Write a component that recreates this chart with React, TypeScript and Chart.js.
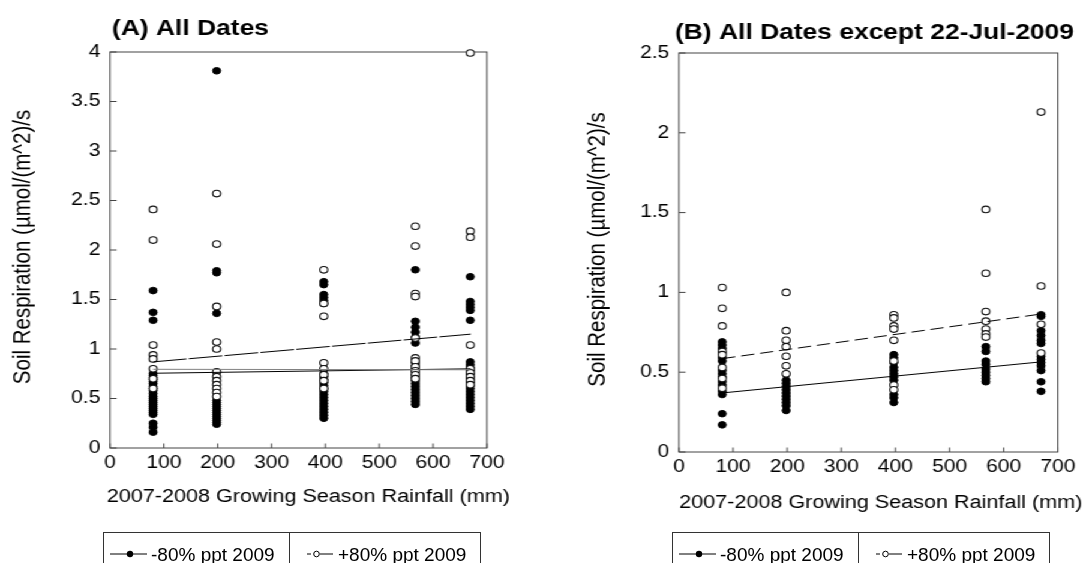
import React, { useEffect, useRef } from 'react';
import { Chart, registerables } from 'chart.js';

Chart.register(...registerables);

// ---------- data ----------
const X_COLUMNS = [80, 198, 397, 567, 669];
const FIT_X = [80, 670];

// Panel A: all dates
const A_MINUS80 = [
  [1.59, 1.37, 1.29, 0.75, 0.73, 0.71, 0.69, 0.67, 0.65, 0.62, 0.6, 0.58, 0.55, 0.52, 0.5, 0.48, 0.46, 0.44, 0.42, 0.4, 0.38, 0.36, 0.34, 0.25, 0.21, 0.16],
  [3.81, 1.79, 1.77, 1.36, 0.48, 0.46, 0.44, 0.42, 0.4, 0.38, 0.36, 0.34, 0.32, 0.3, 0.28, 0.26, 0.24],
  [1.68, 1.65, 1.55, 1.52, 1.49, 1.46, 0.75, 0.72, 0.69, 0.66, 0.63, 0.6, 0.57, 0.54, 0.51, 0.48, 0.45, 0.42, 0.39, 0.36, 0.33, 0.3],
  [1.8, 1.28, 1.22, 1.17, 1.12, 1.06, 0.86, 0.83, 0.8, 0.77, 0.74, 0.71, 0.68, 0.65, 0.62, 0.59, 0.56, 0.53, 0.5, 0.47, 0.44],
  [1.73, 1.48, 1.45, 1.42, 1.39, 1.29, 0.87, 0.84, 0.81, 0.78, 0.75, 0.72, 0.69, 0.66, 0.63, 0.6, 0.57, 0.54, 0.51, 0.48, 0.45, 0.42, 0.39],
];
const A_PLUS80 = [
  [2.41, 2.1, 1.04, 0.94, 0.9, 0.8, 0.7, 0.6],
  [2.57, 2.06, 1.43, 1.07, 1.0, 0.77, 0.72, 0.68, 0.64, 0.6, 0.56, 0.52],
  [1.8, 1.46, 1.33, 0.86, 0.8, 0.74, 0.68, 0.6],
  [2.24, 2.04, 1.56, 1.53, 1.11, 0.91, 0.88, 0.82, 0.78, 0.74, 0.7],
  [3.99, 2.19, 2.13, 1.04, 0.8, 0.76, 0.72, 0.68, 0.64],
];
const A_FIT_MINUS80 = [0.755, 0.8];
const A_FIT_MINUS80_ALT = [0.795, 0.79];
const A_FIT_PLUS80 = [0.87, 1.15];

// Panel B: all dates except 22-Jul-2009
const B_MINUS80 = [
  [0.69, 0.67, 0.65, 0.59, 0.57, 0.51, 0.49, 0.47, 0.44, 0.42, 0.38, 0.36, 0.24, 0.17],
  [0.45, 0.43, 0.41, 0.39, 0.37, 0.35, 0.33, 0.31, 0.29, 0.26],
  [0.61, 0.59, 0.56, 0.53, 0.51, 0.49, 0.47, 0.45, 0.36, 0.34, 0.31],
  [0.66, 0.63, 0.57, 0.55, 0.52, 0.5, 0.48, 0.46, 0.44],
  [0.86, 0.85, 0.76, 0.73, 0.7, 0.68, 0.6, 0.58, 0.56, 0.54, 0.51, 0.44, 0.38],
];
const B_PLUS80 = [
  [1.03, 0.9, 0.79, 0.63, 0.61, 0.53, 0.46, 0.4],
  [1.0, 0.76, 0.7, 0.66, 0.6, 0.54, 0.49],
  [0.86, 0.84, 0.79, 0.77, 0.7, 0.57, 0.42, 0.39],
  [1.52, 1.12, 0.88, 0.82, 0.77, 0.74, 0.72],
  [2.13, 1.04, 0.8, 0.62],
];
const B_FIT_MINUS80 = [0.37, 0.565];
const B_FIT_PLUS80 = [0.585, 0.865];

const LEGEND_LABELS = ['-80% ppt 2009', '+80% ppt 2009'];
const X_TITLE = '2007-2008 Growing Season Rainfall (mm)';
const Y_TITLE = 'Soil Respiration (\u00b5mol/(m^2)/s';

// ---------- styling / layout ----------
const FONT = '"Liberation Sans", Arial, Helvetica, sans-serif';
const SX = 1.2; // horizontal stretch of the plot graphics
const PAGE_H = 563;
const FRAME = '#444';

const toPoints = (cols: number[][]) => {
  const pts: { x: number; y: number }[] = [];
  cols.forEach((vals, i) => vals.forEach((v) => pts.push({ x: X_COLUMNS[i], y: v })));
  return pts;
};
const toLine = (ys: number[]) => ys.map((y, i) => ({ x: FIT_X[i], y }));

type PanelCfg = {
  canvasLeft: number;
  canvasWidth: number;
  area: { left: number; right: number; top: number; bottom: number };
  yMax: number;
  title: string;
  titleX: number;
  titleY: number;
  yTitleX: number;
  xTitleX: number;
  xTitleY: number;
  minus: number[][];
  plus: number[][];
  fits: { ys: number[]; color: string; dash: number[] }[];
};

const PANELS: PanelCfg[] = [
  {
    canvasLeft: 0,
    canvasWidth: 460,
    area: { left: 91.7, right: 405.8, top: 52, bottom: 448 },
    yMax: 4,
    title: '(A) All Dates',
    titleX: 93.3,
    titleY: 34.5,
    yTitleX: 19.5,
    xTitleX: 257,
    xTitleY: 497,
    minus: A_MINUS80,
    plus: A_PLUS80,
    fits: [
      { ys: A_FIT_MINUS80_ALT, color: '#808080', dash: [] },
      { ys: A_FIT_MINUS80, color: '#000', dash: [] },
      { ys: A_FIT_PLUS80, color: '#000', dash: [28, 2] },
    ],
  },
  {
    canvasLeft: 470,
    canvasWidth: 1085 / SX - 470,
    area: { left: 565.8, right: 881.7, top: 53, bottom: 452 },
    yMax: 2.5,
    title: '(B) All Dates except 22-Jul-2009',
    titleX: 562.5,
    titleY: 38.5,
    yTitleX: 498.3,
    xTitleX: 734,
    xTitleY: 503,
    minus: B_MINUS80,
    plus: B_PLUS80,
    fits: [
      { ys: B_FIT_MINUS80, color: '#000', dash: [] },
      { ys: B_FIT_PLUS80, color: '#000', dash: [11, 5] },
    ],
  },
];

function Panel({ cfg }: { cfg: PanelCfg }) {
  const ref = useRef<HTMLCanvasElement>(null);

  useEffect(() => {
    if (!ref.current) return;
    const off = cfg.canvasLeft;
    const a = cfg.area;

    const decor = {
      id: 'panelDecor',
      beforeDatasetsDraw(chart: any) {
        const { ctx, chartArea: ca, scales } = chart;
        ctx.save();
        ctx.strokeStyle = FRAME;
        ctx.lineWidth = 1;
        ctx.strokeRect(ca.left, ca.top, ca.right - ca.left, ca.bottom - ca.top);
        ctx.beginPath();
        scales.y.ticks.forEach((t: any) => {
          const y = scales.y.getPixelForValue(t.value);
          ctx.moveTo(ca.left, y);
          ctx.lineTo(ca.left + 5.5, y);
        });
        scales.x.ticks.forEach((t: any) => {
          const x = scales.x.getPixelForValue(t.value);
          ctx.moveTo(x, ca.bottom);
          ctx.lineTo(x, ca.bottom - 4.5);
        });
        ctx.stroke();
        ctx.restore();
      },
      afterDraw(chart: any) {
        const { ctx, chartArea: ca } = chart;
        ctx.save();
        ctx.fillStyle = '#000';
        ctx.font = `bold 22px ${FONT}`;
        ctx.textAlign = 'left';
        ctx.textBaseline = 'alphabetic';
        ctx.fillText(cfg.title, cfg.titleX - off, cfg.titleY);

        ctx.font = `18px ${FONT}`;
        ctx.textAlign = 'center';
        ctx.textBaseline = 'middle';
        ctx.fillText(X_TITLE, cfg.xTitleX - off, cfg.xTitleY);

        ctx.font = `20.5px ${FONT}`;
        ctx.translate(cfg.yTitleX - off, (ca.top + ca.bottom) / 2 - 3);
        ctx.rotate(-Math.PI / 2);
        ctx.fillText(Y_TITLE, 0, 0);
        ctx.restore();
      },
    };

    const tickFont = { family: FONT, size: 17.5 };

    const chart = new Chart(ref.current, {
      type: 'scatter',
      data: {
        datasets: [
          ...cfg.fits.map((f) => ({
            type: 'line' as const,
            data: toLine(f.ys),
            borderColor: f.color,
            borderWidth: 1,
            borderDash: f.dash,
            pointRadius: 0,
            showLine: true,
            fill: false,
            order: 0,
            clip: false as const,
          })),
          {
            label: LEGEND_LABELS[1],
            data: toPoints(cfg.plus),
            pointRadius: 3.3,
            pointBorderWidth: 1.1,
            pointBackgroundColor: '#fff',
            pointBorderColor: '#111',
            backgroundColor: '#fff',
            borderColor: '#111',
            order: 1,
            clip: false as const,
          },
          {
            label: LEGEND_LABELS[0],
            data: toPoints(cfg.minus),
            pointRadius: 3.3,
            pointBorderWidth: 1,
            pointBackgroundColor: '#000',
            pointBorderColor: '#000',
            backgroundColor: '#000',
            borderColor: '#000',
            order: 2,
            clip: false as const,
          },
        ],
      },
      options: {
        responsive: false,
        animation: false,
        devicePixelRatio: 1,
        events: [],
        layout: {
          padding: {
            left: 0,
            top: a.top,
            right: cfg.canvasWidth - (a.right - off),
            bottom: 0,
          },
        },
        plugins: {
          legend: { display: false },
          tooltip: { enabled: false },
          title: { display: false },
        },
        scales: {
          x: {
            type: 'linear',
            min: 0,
            max: 700,
            ticks: {
              stepSize: 100,
              font: tickFont,
              color: '#000',
              padding: 4.5,
              maxRotation: 0,
              autoSkip: false,
            },
            grid: { display: false, drawTicks: false },
            border: { display: false },
            afterFit: (s: any) => {
              s.height = PAGE_H - a.bottom;
            },
          },
          y: {
            type: 'linear',
            min: 0,
            max: cfg.yMax,
            ticks: {
              stepSize: 0.5,
              font: tickFont,
              color: '#000',
              padding: 8,
              callback: (v: any) => String(v),
            },
            grid: { display: false, drawTicks: false },
            border: { display: false },
            afterFit: (s: any) => {
              s.width = a.left - off;
            },
          },
        },
      },
      plugins: [decor],
    } as any);

    return () => chart.destroy();
  }, [cfg]);

  return (
    <canvas
      ref={ref}
      width={cfg.canvasWidth}
      height={PAGE_H}
      style={{
        position: 'absolute',
        left: cfg.canvasLeft,
        top: 0,
        width: cfg.canvasWidth,
        height: PAGE_H,
      }}
    />
  );
}

function Legend({ left }: { left: number }) {
  const txt: React.CSSProperties = {
    position: 'absolute',
    top: 11.5,
    lineHeight: '20px',
    fontSize: 19,
    whiteSpace: 'nowrap',
    color: '#000',
  };
  return (
    <div
      style={{
        position: 'absolute',
        left,
        top: 532,
        width: 378,
        height: 40,
        border: '1px solid #333',
        boxSizing: 'border-box',
        fontFamily: FONT,
      }}
    >
      <div style={{ position: 'absolute', left: 185, top: 0, bottom: 0, borderLeft: '1px solid #333' }} />
      <svg width={378} height={40} style={{ position: 'absolute', left: -1, top: -1 }}>
        <line x1={7} y1={22} x2={44} y2={22} stroke="#000" strokeWidth={1} />
        <circle cx={27} cy={22} r={3.2} fill="#000" />
        <line x1={204} y1={22} x2={208} y2={22} stroke="#000" strokeWidth={1} />
        <line x1={217} y1={22} x2={230} y2={22} stroke="#000" strokeWidth={1} />
        <circle cx={213.5} cy={22} r={2.8} fill="#fff" stroke="#000" strokeWidth={1} />
      </svg>
      <span style={{ ...txt, left: 47 }}>{LEGEND_LABELS[0]}</span>
      <span style={{ ...txt, left: 234 }}>{LEGEND_LABELS[1]}</span>
    </div>
  );
}

export default function App() {
  return (
    <div
      style={{
        position: 'fixed',
        left: 0,
        top: 0,
        width: 1085,
        height: PAGE_H,
        overflow: 'hidden',
        background: '#fff',
      }}
    >
      <div
        style={{
          position: 'absolute',
          left: 0,
          top: 0,
          width: 1085 / SX,
          height: PAGE_H,
          transform: `scaleX(${SX})`,
          transformOrigin: '0 0',
        }}
      >
        {PANELS.map((p, i) => (
          <Panel key={i} cfg={p} />
        ))}
      </div>
      <Legend left={103} />
      <Legend left={672} />
    </div>
  );
}
